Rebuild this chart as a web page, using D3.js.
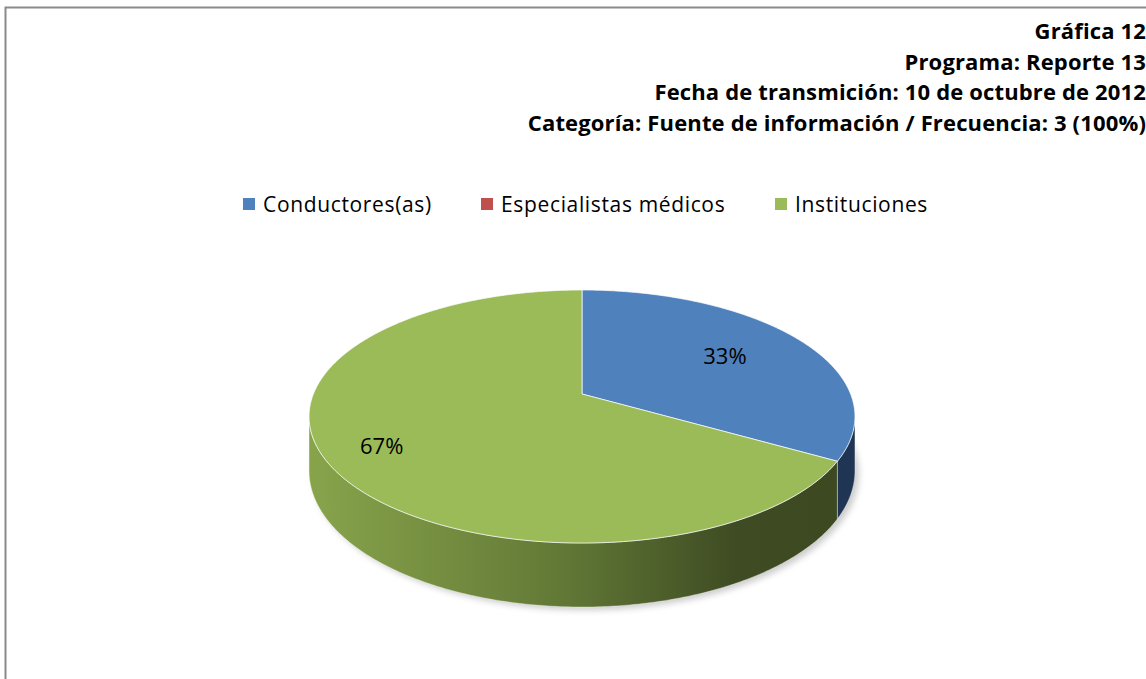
<!DOCTYPE html>
<html lang="es">
<head>
    <meta charset="UTF-8">
    <script type="text/javascript" src="https://cdn.jsdelivr.net/npm/d3@7/dist/d3.min.js"></script>
    <title>Gráfica 12</title>
    <style>
        body { margin: 0; background: #fff; }
        svg { display: block; font-family: "Open Sans", "Noto Sans", sans-serif; }
    </style>
</head>
<body>
<script>
    var titulos = [
        "Gráfica 12",
        "Programa: Reporte 13",
        "Fecha de transmición: 10 de octubre de 2012",
        "Categoría: Fuente de información / Frecuencia: 3 (100%)"
    ];
    var categorias = ["Conductores(as)", "Especialistas médicos", "Instituciones"];
    var valores = [1, 0, 2];
    var colores = ["#4f81bd", "#c0504d", "#9bbb59"];
    var coloresLado = ["#1f3553", "#5a2220", null];

    var width = 1146, height = 679;
    var svg = d3.select("body").append("svg")
        .attr("width", width)
        .attr("height", height);

    // marco del gráfico
    svg.append("rect")
        .attr("x", 5.5).attr("y", 7.5)
        .attr("width", 1300).attr("height", 800)
        .attr("fill", "#fff")
        .attr("stroke", "#8a8a8a")
        .attr("stroke-width", 2);

    // títulos
    svg.selectAll("text.titulo")
        .data(titulos)
        .enter()
        .append("text")
        .attr("class", "titulo")
        .attr("x", 1146)
        .attr("y", function(d, i){ return 39 + i * 30.7; })
        .attr("text-anchor", "end")
        .style("font-weight", "bold")
        .style("font-size", "22px")
        .style("letter-spacing", "0.15px")
        .style("fill", "#000")
        .text(function(d){ return d; });

    // leyenda
    var legX = [243, 481, 775];
    var leyenda = svg.selectAll("g.leg")
        .data(categorias)
        .enter()
        .append("g")
        .attr("class", "leg")
        .attr("transform", function(d, i){ return "translate(" + legX[i] + ",198)"; });
    leyenda.append("rect")
        .attr("width", 12).attr("height", 12)
        .attr("fill", function(d, i){ return colores[i]; });
    leyenda.append("text")
        .attr("x", 20).attr("y", 14)
        .style("font-size", "21px")
        .style("letter-spacing", "0.65px")
        .text(function(d){ return d; });

    // pastel 3D con perspectiva
    var cx = 582, cy = 394;     // centro proyectado
    var R = 268.6;              // radio en el plano
    var alto = 122.5;           // R * sen(inclinación)
    var persp = 0.178;          // intensidad de la perspectiva
    var grosor = 52.6;          // grosor del disco

    // proyección de un punto del disco (ángulo desde las 12, sentido horario)
    function proy(a, r, abajo) {
        var s = 1 / (1 + persp * r * Math.cos(a));
        return [
            cx + R * r * Math.sin(a) * s,
            cy - alto * r * Math.cos(a) * s + (abajo ? grosor * s : 0)
        ];
    }
    function muestras(a0, a1) {
        var n = Math.max(2, Math.ceil(Math.abs(a1 - a0) / 0.01));
        return d3.range(n + 1).map(function(k){ return a0 + (a1 - a0) * k / n; });
    }
    var linea = d3.line();

    var total = d3.sum(valores);
    var pie = d3.pie().sort(null).value(function(d){ return d; });
    var arcos = pie(valores);

    var defs = svg.append("defs");
    var grad = defs.append("linearGradient")
        .attr("id", "ladoVerde")
        .attr("gradientUnits", "userSpaceOnUse")
        .attr("x1", cx - 273).attr("x2", cx + 273)
        .attr("y1", 0).attr("y2", 0);
    grad.append("stop").attr("offset", "0").attr("stop-color", "#88a44b");
    grad.append("stop").attr("offset", "0.45").attr("stop-color", "#637a37");
    grad.append("stop").attr("offset", "0.78").attr("stop-color", "#3f4c23");
    grad.append("stop").attr("offset", "1").attr("stop-color", "#3c4920");

    var sombra = defs.append("filter").attr("id", "sombra")
        .attr("x", "-10%").attr("y", "-10%").attr("width", "120%").attr("height", "130%");
    sombra.append("feGaussianBlur").attr("stdDeviation", 3);

    // sombra bajo el disco
    var contorno = muestras(0, 2 * Math.PI).map(function(a){ return proy(a, 1, true); });
    svg.append("path")
        .attr("d", linea(contorno) + "Z")
        .attr("transform", "translate(4,3)")
        .attr("fill", "#999")
        .attr("opacity", 0.5)
        .attr("filter", "url(#sombra)");

    // lados visibles (entre las dos tangentes verticales)
    var aIni = Math.acos(-persp), aFin = 2 * Math.PI - aIni;
    arcos.forEach(function(d, i) {
        var a0 = Math.max(d.startAngle, aIni);
        var a1 = Math.min(d.endAngle, aFin);
        if (a1 <= a0) return;
        var arriba = muestras(a0, a1).map(function(a){ return proy(a, 1, false); });
        var abajoPts = muestras(a1, a0).map(function(a){ return proy(a, 1, true); });
        svg.append("path")
            .attr("d", linea(arriba.concat(abajoPts)) + "Z")
            .attr("fill", coloresLado[i] || "url(#ladoVerde)")
            .attr("stroke", "#fff")
            .attr("stroke-opacity", 0.45)
            .attr("stroke-width", 0.8);
    });

    // caras superiores
    arcos.forEach(function(d, i) {
        if (d.endAngle - d.startAngle <= 0) return;
        var pts = [[cx, cy]].concat(muestras(d.startAngle, d.endAngle).map(function(a){ return proy(a, 1, false); }));
        svg.append("path")
            .attr("d", linea(pts) + "Z")
            .attr("fill", colores[i])
            .attr("stroke", "#fff")
            .attr("stroke-opacity", 0.7)
            .attr("stroke-width", 1);
    });

    // etiquetas de porcentaje (la porción mayor se aleja más del centro)
    var etiquetas = arcos.filter(function(d){ return d.value > 0; });
    svg.selectAll("text.pct")
        .data(etiquetas)
        .enter()
        .append("text")
        .attr("class", "pct")
        .attr("transform", function(d){
            var a = (d.startAngle + d.endAngle) / 2;
            var r = 0.5 + 0.45 * (d.endAngle - d.startAngle) / (2 * Math.PI);
            var p = proy(a, r, false);
            return "translate(" + p + ")";
        })
        .attr("dy", "0.35em")
        .attr("text-anchor", "middle")
        .style("font-size", "22px")
        .text(function(d){ return Math.round(d.value / total * 100) + "%"; });
</script>
</body>
</html>
